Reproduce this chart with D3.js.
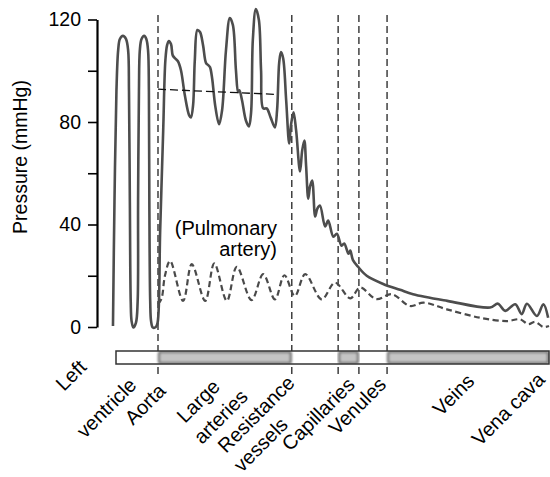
<!DOCTYPE html>
<html>
<head>
<meta charset="utf-8">
<script src="https://cdn.jsdelivr.net/npm/d3@7"></script>
<style>
  body { margin: 0; background: #fff; }
  svg text { font-family: "Liberation Sans", Arial, Helvetica, sans-serif; }
</style>
</head>
<body>
<div id="chart"></div>
<script>
// Pressure along the circulation (position in arbitrary units 0-100, pressure in mmHg)
const pressureTicks = [0, 20, 40, 60, 80, 100, 120];
const labeledTicks = [0, 40, 80, 120];

// systemic circuit: left ventricle -> vena cava
const systemicPressure = [
  [-0.7, 0.4], [-0.35, 49], [0.1, 92], [0.5, 108], [0.9, 112.4], [1.6, 113.6], [2.3, 112.4], [2.8, 108],
  [3.0, 92], [3.2, 49], [3.4, 10], [3.6, 2.3], [4.0, -0.2], [4.6, 1.6], [5.0, 10], [5.1, 49],
  [5.3, 92], [5.5, 108], [5.9, 112.4], [6.5, 113.6], [7.0, 112.4], [7.4, 108], [7.6, 92], [7.7, 49],
  [7.9, 10], [8.1, 2.3], [8.5, -0.2], [9.2, 0], [9.6, 1.6], [10.2, 37.6], [10.9, 76.7], [11.4, 104],
  [11.8, 110], [12.2, 111.6], [12.7, 110.4], [13.1, 106], [13.6, 104.9], [14.3, 103.7], [15.0, 100.2],
  [15.9, 90.4], [16.9, 82.6], [17.3, 81.8], [17.8, 86.5], [18.2, 104.1], [18.8, 115.9], [19.4, 115.1],
  [20.1, 110], [20.8, 103], [21.3, 102.2], [21.7, 101.4], [22.2, 97.1], [22.9, 86.5], [23.8, 79.1],
  [24.5, 84.6], [25.4, 108], [26.3, 120.6], [27.0, 117.8], [27.7, 100.2], [28.2, 91.6], [28.5, 92.4],
  [29.1, 88.5], [30.0, 80.6], [30.7, 78.3], [31.2, 83.8], [31.6, 112], [32.3, 124.1], [33.0, 119.8],
  [33.5, 100.2], [34.0, 85.3], [34.8, 85.3], [35.7, 81.8], [36.7, 77.9], [37.2, 84.6], [37.7, 103.4],
  [38.1, 107.3], [38.6, 104.9], [39.3, 88.5], [40.0, 71.6], [40.4, 78.7], [41.0, 83.8], [41.6, 76.7],
  [42.5, 60.7], [43.0, 68.9], [43.5, 72.8], [43.9, 63], [44.4, 50.1], [44.8, 54.8], [45.3, 57.2],
  [46.0, 43.1], [46.5, 46.2], [47.1, 47.4], [48.3, 39.2], [49.0, 41.5], [50.2, 35.2], [51.0, 36.4],
  [52.1, 31.7], [52.7, 32.6], [53.7, 28.6], [54.1, 29.8], [54.7, 26.2], [55.9, 23.5], [57.9, 20],
  [61.7, 16.8], [65.6, 14.5], [68.6, 12.8], [76.5, 10.2], [86.4, 7.6], [88.2, 9.1], [89.9, 6.3],
  [92.2, 8.9], [93.7, 5.0], [94.9, 9.1], [97.2, 4.3], [98.7, 8.9], [99.8, 3.6]
];

// pulmonary circuit (dashed)
const pulmonaryPressure = [
  [9.7, 9.0], [10.5, 11], [11.3, 20], [12.5, 25.8], [15.5, 10.2], [17.5, 24.5], [20.6, 10.2],
  [22.7, 24.8], [25.6, 10.2], [27.9, 23.5], [31.3, 10.5], [34.0, 20.6], [36.7, 10.8], [38.9, 20.2],
  [41.3, 12.1], [43.7, 20.6], [47.5, 10.8], [50.6, 17.3], [54.1, 11.2], [56.4, 15.4], [60.1, 10.9],
  [63.7, 12.8], [67.9, 8.2], [71.0, 9.5], [76.4, 6.9], [84.1, 3.6], [90.2, 2.3], [93.3, 3.0],
  [95.2, 1.1], [96.8, 2.0], [98.7, 0], [100, 0.4]
];

// mean aortic pressure
const meanPressure = [[9.7, 92.8], [36.7, 90.8]];

// vessel sections along the bar
const sectionBounds = [0, 9.7, 40.6, 51.3, 56.1, 62.6, 100];
const sectionShaded = [false, true, false, true, false, true];
const vesselLabels = [["Left", "ventricle"], ["Aorta"], ["Large", "arteries"], ["Resistance", "vessels"],
  ["Capillaries"], ["Venules"], ["Veins"], ["Vena cava"]];
const pulmonaryLabel = ["(Pulmonary", "artery)"];

// layout
const width = 550, height = 477;
const fontSize = 20;
const barTop = 351, barHeight = 13;
// baseline start of each label line (rotated -45deg)
const labelLines = [
  [[64, 392], [85, 439]],
  [[133, 426]],
  [[185, 424], [202, 445]],
  [[226, 454], [242, 473]],
  [[290, 452]],
  [[337, 436]],
  [[441, 417]],
  [[480, 447]]
];

const svg = d3.select("#chart").append("svg")
  .attr("width", width).attr("height", height);

const x = d3.scaleLinear().domain([0, 100]).range([116, 549]);
const y = d3.scaleLinear().domain([0, 120]).range([327, 19.5]);

const defs = svg.append("defs");
defs.append("filter").attr("id", "soft")
  .attr("x", "-10%").attr("y", "-50%").attr("width", "120%").attr("height", "200%")
  .append("feGaussianBlur").attr("stdDeviation", 1.3);
defs.append("clipPath").attr("id", "barClip")
  .append("rect")
  .attr("x", x(0)).attr("y", barTop).attr("width", x(100) - x(0)).attr("height", barHeight);

// y axis
const yAxis = svg.append("g")
  .attr("transform", `translate(97,0)`)
  .call(d3.axisLeft(y).tickValues(pressureTicks).tickSize(9).tickSizeOuter(0).tickPadding(7)
    .tickFormat(d => labeledTicks.includes(d) ? d : ""));
yAxis.select(".domain").attr("stroke", "#000").attr("stroke-width", 2.2);
yAxis.selectAll(".tick line").attr("stroke", "#000").attr("stroke-width", 1.6);
yAxis.selectAll(".tick text").attr("fill", "#000").style("font-size", "19.5px")
  .style("font-family", '"Liberation Sans", Arial, sans-serif');

svg.append("text")
  .attr("transform", `translate(27,157) rotate(-90)`)
  .attr("text-anchor", "middle")
  .style("font-size", "19.5px")
  .text("Pressure (mmHg)");

// section boundaries (vertical dashed lines)
svg.selectAll(".bound")
  .data(sectionBounds.slice(1, -1))
  .enter().append("line")
  .attr("x1", d => x(d)).attr("x2", d => x(d))
  .attr("y1", 15).attr("y2", barTop + barHeight + 14)
  .attr("stroke", "#222").attr("stroke-width", 1.3)
  .attr("stroke-dasharray", "7,4");

// bar with shaded sections
const bar = svg.append("g");
bar.append("rect")
  .attr("x", x(0)).attr("y", barTop).attr("width", x(100) - x(0)).attr("height", barHeight)
  .attr("fill", "#fff");
bar.append("g").attr("clip-path", "url(#barClip)")
  .selectAll("rect")
  .data(d3.range(sectionShaded.length).filter(i => sectionShaded[i]))
  .enter().append("rect")
  .attr("x", i => x(sectionBounds[i]) + 1)
  .attr("y", barTop + 1)
  .attr("width", i => x(sectionBounds[i + 1]) - x(sectionBounds[i]) - 2)
  .attr("height", barHeight - 2)
  .attr("rx", 2)
  .attr("fill", "#c4c4c4")
  .attr("stroke", "#7c7c7c")
  .attr("stroke-width", 2.5)
  .attr("filter", "url(#soft)");
bar.append("rect")
  .attr("x", x(0)).attr("y", barTop).attr("width", x(100) - x(0)).attr("height", barHeight)
  .attr("fill", "none").attr("stroke", "#333").attr("stroke-width", 1.5);

// curves
const line = d3.line()
  .x(d => x(d[0])).y(d => y(d[1]))
  .curve(d3.curveCatmullRom.alpha(0.5));

svg.append("path")
  .attr("d", line(pulmonaryPressure))
  .attr("fill", "none").attr("stroke", "#4a4a4a").attr("stroke-width", 2.2)
  .attr("stroke-dasharray", "6,3.5");

svg.append("path")
  .attr("d", line(systemicPressure))
  .attr("fill", "none").attr("stroke", "#4d4d4d").attr("stroke-width", 2.6)
  .attr("stroke-linejoin", "round");

svg.append("path")
  .attr("d", d3.line().x(d => x(d[0])).y(d => y(d[1]))(meanPressure))
  .attr("fill", "none").attr("stroke", "#111").attr("stroke-width", 1.3)
  .attr("stroke-dasharray", "8,4");

// pulmonary label
svg.append("text")
  .attr("text-anchor", "end")
  .style("font-size", fontSize + "px")
  .selectAll("tspan")
  .data(pulmonaryLabel)
  .enter().append("tspan")
  .attr("x", 277).attr("y", (d, i) => 235 + i * 21)
  .text(d => d);

// vessel labels
vesselLabels.forEach((lines, i) => {
  lines.forEach((t, j) => {
    const p = labelLines[i][j];
    svg.append("text")
      .attr("transform", `translate(${p[0]},${p[1]}) rotate(-45)`)
      .style("font-size", fontSize + "px")
      .text(t);
  });
});
</script>
</body>
</html>
